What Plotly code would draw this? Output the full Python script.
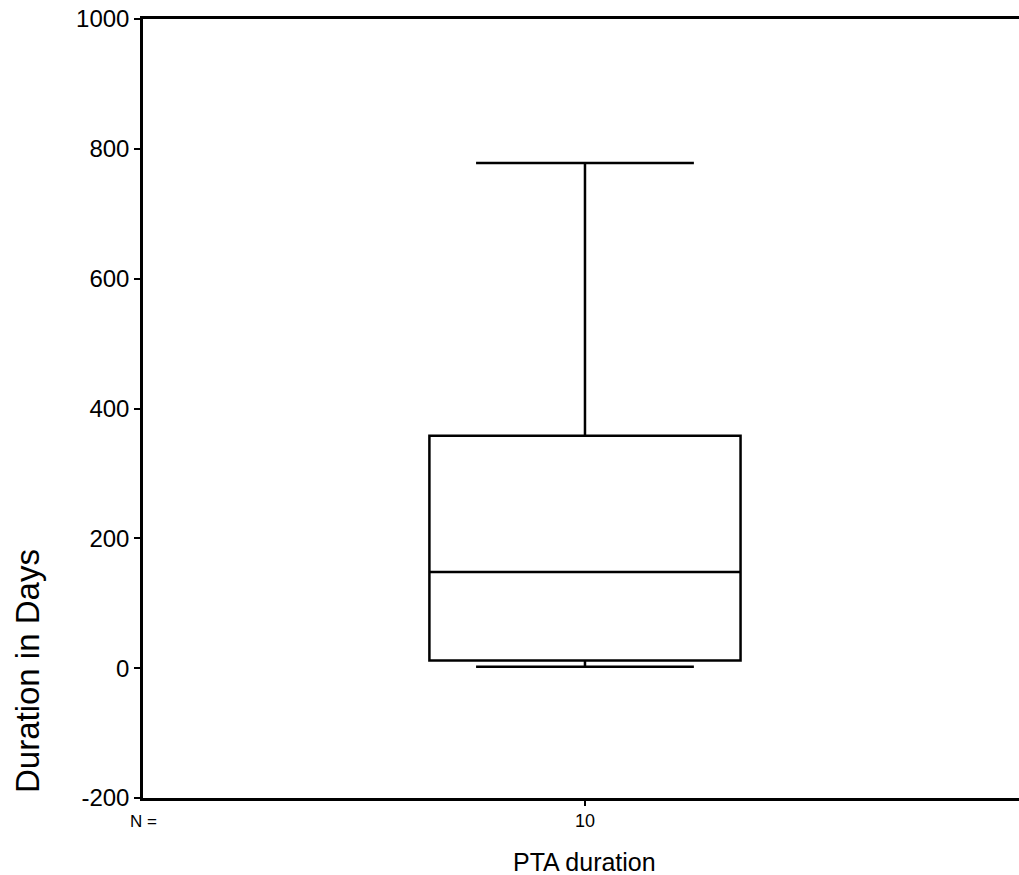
import plotly.graph_objects as go

# Data
categories = ["PTA duration"]
n_counts = ["10"]
q1_vals = [12]
median_vals = [148]
q3_vals = [358]
lower_whisker = [2]
upper_whisker = [778]
y_ticks = [-200, 0, 200, 400, 600, 800, 1000]
y_tick_labels = ["-200", "0", "200", "400", "600", "800", "1000"]

FONT = "Arial, Liberation Sans, sans-serif"

fig = go.Figure()
fig.add_trace(go.Box(
    x=[0],
    q1=q1_vals, median=median_vals, q3=q3_vals,
    lowerfence=lower_whisker, upperfence=upper_whisker,
    width=0.352, whiskerwidth=0.7,
    fillcolor="white",
    line=dict(color="black", width=2.5),
    boxpoints=False,
    name=categories[0],
    showlegend=False,
))

fig.update_layout(
    width=1019, height=875,
    margin=dict(l=143, r=0, t=19, b=77),
    paper_bgcolor="white", plot_bgcolor="white",
    font=dict(family=FONT, color="black"),
    showlegend=False,
)
fig.update_xaxes(
    range=[-0.5, 0.491],
    tickvals=[0], ticktext=n_counts,
    ticks="outside", ticklen=5, tickwidth=2, tickcolor="black",
    tickfont=dict(size=18),
    showline=True, linecolor="black", linewidth=2.5, mirror=True,
    showgrid=False, zeroline=False,
)
fig.update_yaxes(
    range=[-200, 1000],
    tickvals=y_ticks, ticktext=y_tick_labels,
    ticks="outside", ticklen=6, tickwidth=2, tickcolor="black",
    tickfont=dict(size=24),
    showline=True, linecolor="black", linewidth=2.5,
    showgrid=False, zeroline=False,
)

fig.add_annotation(text="N =", xref="paper", yref="paper", x=0.0, y=-0.0308,
                   xanchor="center", yanchor="middle", showarrow=False,
                   font=dict(size=17, family=FONT))
fig.add_annotation(text=categories[0], xref="x", yref="paper", x=0, y=-0.0822,
                   xanchor="center", yanchor="middle", showarrow=False,
                   font=dict(size=25, family=FONT))
fig.add_annotation(text="Duration in Days", xref="paper", yref="paper", x=-0.1324, y=0.163,
                   xanchor="center", yanchor="middle", showarrow=False, textangle=-90,
                   font=dict(size=33, family=FONT))

fig.write_html("out.html",
               config={"displayModeBar": False},
               post_script="document.body.style.margin='0';document.body.style.overflow='hidden';")
